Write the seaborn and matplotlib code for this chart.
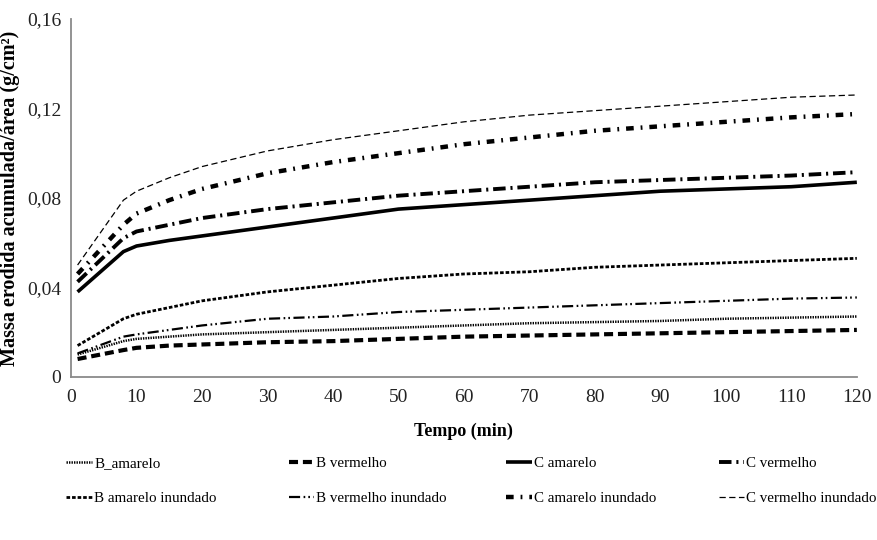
import matplotlib
matplotlib.use("Agg")
import matplotlib.pyplot as plt
import seaborn as sns
import pandas as pd

# Time points (min)
tempo = [1, 8, 10, 15, 20, 30, 40, 50, 60, 70, 80, 90, 100, 110, 120]

# Accumulated eroded mass per area (g/cm²)
b_amarelo = [0.010, 0.016, 0.017, 0.018, 0.019, 0.020, 0.021, 0.022, 0.023, 0.024, 0.0245, 0.025, 0.026, 0.0265, 0.027]
b_vermelho = [0.008, 0.012, 0.013, 0.014, 0.0145, 0.0155, 0.016, 0.017, 0.018, 0.0185, 0.019, 0.0195, 0.020, 0.0205, 0.021]
c_amarelo = [0.038, 0.056, 0.0585, 0.061, 0.063, 0.067, 0.071, 0.075, 0.077, 0.079, 0.081, 0.083, 0.084, 0.085, 0.087]
c_vermelho = [0.0425, 0.062, 0.065, 0.068, 0.071, 0.075, 0.078, 0.081, 0.083, 0.085, 0.087, 0.088, 0.089, 0.090, 0.0915]
b_amarelo_inund = [0.014, 0.026, 0.028, 0.031, 0.034, 0.038, 0.041, 0.044, 0.046, 0.047, 0.049, 0.050, 0.051, 0.052, 0.053]
b_vermelho_inund = [0.0105, 0.018, 0.019, 0.021, 0.023, 0.026, 0.027, 0.029, 0.030, 0.031, 0.032, 0.033, 0.034, 0.035, 0.0355]
c_amarelo_inund = [0.046, 0.068, 0.073, 0.079, 0.084, 0.091, 0.096, 0.100, 0.104, 0.107, 0.110, 0.112, 0.114, 0.116, 0.1175]
c_vermelho_inund = [0.050, 0.079, 0.083, 0.089, 0.094, 0.101, 0.106, 0.110, 0.114, 0.117, 0.119, 0.121, 0.123, 0.125, 0.126]

series_names = ["B_amarelo", "B vermelho", "C amarelo", "C vermelho",
                "B amarelo inundado", "B vermelho inundado",
                "C amarelo inundado", "C vermelho inundado"]
series_values = [b_amarelo, b_vermelho, c_amarelo, c_vermelho,
                 b_amarelo_inund, b_vermelho_inund, c_amarelo_inund, c_vermelho_inund]

x_ticks = [0, 10, 20, 30, 40, 50, 60, 70, 80, 90, 100, 110, 120]
y_ticks = [0, 0.04, 0.08, 0.12, 0.16]
y_tick_labels = ["0", "0,04", "0,08", "0,12", "0,16"]

# line appearance per series
styles = {
    "B_amarelo": dict(lw=1.8, dashes=(1.0, 0.8)),
    "B vermelho": dict(lw=3.0, dashes=(6.5, 3.5)),
    "C amarelo": dict(lw=2.6, dashes=None),
    "C vermelho": dict(lw=2.8, dashes=(9, 3.5, 1.5, 3.5)),
    "B amarelo inundado": dict(lw=2.0, dashes=(2.6, 1.4)),
    "B vermelho inundado": dict(lw=1.6, dashes=(8, 2.5, 1.2, 2.2, 1.2, 2.5)),
    "C amarelo inundado": dict(lw=3.2, dashes=(5.5, 5, 1.3, 5)),
    "C vermelho inundado": dict(lw=0.9, dashes=(4.5, 2.5)),
}

sns.set_theme(style="white")
plt.rcParams["font.family"] = ["Liberation Serif", "DejaVu Serif"]
plt.rcParams["lines.scale_dashes"] = False
plt.rcParams["text.color"] = "black"
plt.rcParams["axes.labelcolor"] = "black"

fig = plt.figure(figsize=(8.77, 5.40), dpi=100)
ax = fig.add_axes([0.081, 0.302, 0.896, 0.663])

for name, vals in zip(series_names, series_values):
    df = pd.DataFrame({"Tempo": tempo, "Massa": vals})
    st = styles[name]
    sns.lineplot(data=df, x="Tempo", y="Massa", ax=ax, color="black",
                 linewidth=st["lw"], label=name, legend=False)
    line = ax.lines[-1]
    if st["dashes"] is not None:
        line.set_dashes(st["dashes"])
    line.set_solid_capstyle("butt")
    line.set_dash_capstyle("butt")

ax.set_xlim(0, 120)
ax.set_ylim(0, 0.16)
ax.set_xticks(x_ticks)
ax.set_xticklabels([str(v) for v in x_ticks])
ax.set_yticks(y_ticks)
ax.set_yticklabels(y_tick_labels)

for side in ["top", "right"]:
    ax.spines[side].set_visible(False)
for side in ["left", "bottom"]:
    ax.spines[side].set_color("#8a8a8a")
    ax.spines[side].set_linewidth(1.3)

ax.tick_params(axis="both", which="major", direction="out", length=5, width=1.2,
               color="#8a8a8a", labelsize=14, labelcolor="#222222", pad=4)
ax.tick_params(axis="y", pad=2)

ax.set_xlabel("Tempo (min)", fontsize=13, fontweight="bold", labelpad=12)
ax.set_ylabel("Massa erodida acumulada/área (g/cm²)", fontsize=14.5,
              fontweight="bold", labelpad=5)

# legend: four columns, two rows, each column placed at its own position
handles = {ln.get_label(): ln for ln in ax.lines}
columns = [("B_amarelo", "B amarelo inundado"),
           ("B vermelho", "B vermelho inundado"),
           ("C amarelo", "C amarelo inundado"),
           ("C vermelho", "C vermelho inundado")]
col_x = [-0.006, 0.277, 0.554, 0.824]
for cx, pair in zip(col_x, columns):
    leg = ax.legend([handles[p] for p in pair], list(pair),
                    loc="upper left", bbox_to_anchor=(cx, -0.222),
                    frameon=False, fontsize=10.8, handlelength=1.7,
                    handletextpad=0.15, labelspacing=1.45, borderaxespad=0,
                    borderpad=0)
    for txt in leg.get_texts():
        txt.set_color("black")
    ax.add_artist(leg)
ax.legend_ = None

fig.savefig("out.png", dpi=100, facecolor="white")
